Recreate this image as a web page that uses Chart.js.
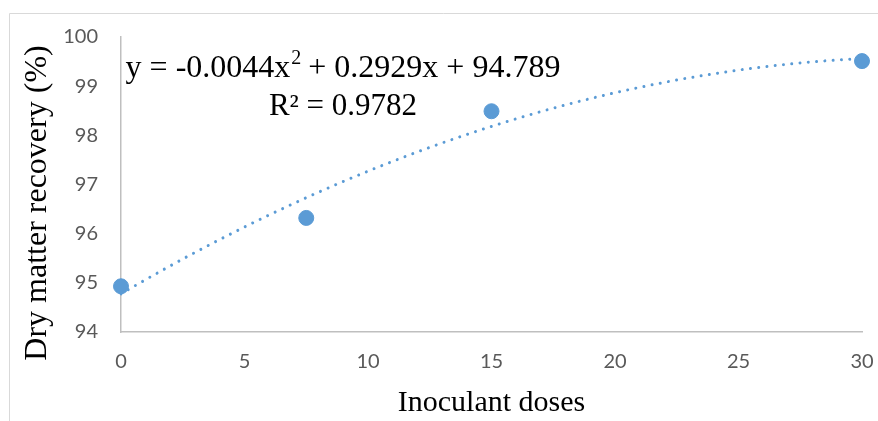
<!DOCTYPE html>
<html>
<head>
<meta charset="utf-8">
<script src="https://cdn.jsdelivr.net/npm/chart.js@4/dist/chart.umd.min.js"></script>
<style>
  html, body { margin: 0; padding: 0; background: #ffffff; }
  #wrap { width: 878px; height: 421px; }
</style>
</head>
<body>
<div id="wrap"><canvas id="c" width="878" height="421"></canvas></div>
<script>
// ---- data ----
const doses = [0, 7.5, 15, 30];
const recovery = [94.93, 96.32, 98.49, 99.51];
const xTicks = [0, 5, 10, 15, 20, 25, 30];
const yTicks = [94, 95, 96, 97, 98, 99, 100];
const xTitle = 'Inoculant doses';
const yTitle = 'Dry matter recovery (%)';
const eqLine1a = 'y = -0.0044x';
const eqLine1sup = '2';
const eqLine1b = ' + 0.2929x + 94.789';
const eqLine2 = 'R² = 0.9782';

// ---- 2nd order polynomial least-squares trendline computed from the data ----
function polyFit2(xs, ys) {
  let n = xs.length, sx = 0, sx2 = 0, sx3 = 0, sx4 = 0, sy = 0, sxy = 0, sx2y = 0;
  for (let i = 0; i < n; i++) {
    const x = xs[i], y = ys[i];
    sx += x; sx2 += x * x; sx3 += x * x * x; sx4 += x * x * x * x;
    sy += y; sxy += x * y; sx2y += x * x * y;
  }
  const M = [[n, sx, sx2, sy], [sx, sx2, sx3, sxy], [sx2, sx3, sx4, sx2y]];
  for (let i = 0; i < 3; i++) {
    for (let j = i + 1; j < 3; j++) {
      const f = M[j][i] / M[i][i];
      for (let k = i; k < 4; k++) M[j][k] -= f * M[i][k];
    }
  }
  const r = [0, 0, 0];
  for (let i = 2; i >= 0; i--) {
    let s = M[i][3];
    for (let k = i + 1; k < 3; k++) s -= M[i][k] * r[k];
    r[i] = s / M[i][i];
  }
  return { c: r[0], b: r[1], a: r[2] };
}
const fit = polyFit2(doses, recovery);
const trend = [];
for (let x = doses[0]; x <= doses[doses.length - 1] + 1e-9; x += 0.25) {
  trend.push({ x: x, y: fit.a * x * x + fit.b * x + fit.c });
}

const blue = '#5B9BD5';
const tickColor = '#595959';
const serif = '"Liberation Serif", "Times New Roman", serif';

const decorPlugin = {
  id: 'decor',
  beforeDraw(chart) {
    const ctx = chart.ctx;
    ctx.save();
    ctx.strokeStyle = '#D9D9D9';
    ctx.lineWidth = 1;
    ctx.beginPath();
    ctx.moveTo(9.5, 421);
    ctx.lineTo(9.5, 13.5);
    ctx.lineTo(878, 13.5);
    ctx.stroke();
    ctx.restore();
  },
  afterDraw(chart) {
    const ctx = chart.ctx;
    ctx.save();
    ctx.fillStyle = '#000000';
    // y axis title
    ctx.save();
    ctx.translate(38, 203);
    ctx.rotate(-Math.PI / 2);
    ctx.font = '32px ' + serif;
    ctx.textAlign = 'center';
    ctx.textBaseline = 'middle';
    ctx.fillText(yTitle, 0, 0);
    ctx.restore();
    // trendline equation
    const big = '32px ' + serif, small = '20px ' + serif;
    ctx.textBaseline = 'alphabetic';
    ctx.textAlign = 'left';
    ctx.font = big;
    const wA = ctx.measureText(eqLine1a).width;
    const wB = ctx.measureText(eqLine1b).width;
    ctx.font = small;
    const wS = ctx.measureText(eqLine1sup).width;
    const cx = 343;
    let x0 = cx - (wA + wS + wB) / 2;
    ctx.font = big;
    ctx.fillText(eqLine1a, x0, 77);
    ctx.font = small;
    ctx.fillText(eqLine1sup, x0 + wA + 1, 64);
    ctx.font = big;
    ctx.fillText(eqLine1b, x0 + wA + wS, 77);
    ctx.textAlign = 'center';
    ctx.font = '31px ' + serif;
    ctx.fillText(eqLine2, cx, 115);
    ctx.restore();
  }
};

new Chart(document.getElementById('c'), {
  type: 'scatter',
  data: {
    datasets: [
      {
        label: 'Trend',
        type: 'line',
        data: trend,
        showLine: true,
        borderColor: blue,
        borderWidth: 3,
        borderDash: [0.01, 8.3],
        borderCapStyle: 'round',
        pointRadius: 0,
        fill: false,
        tension: 0,
        clip: false,
        order: 2
      },
      {
        label: 'Dry matter recovery',
        data: doses.map((d, i) => ({ x: d, y: recovery[i] })),
        backgroundColor: blue,
        borderColor: blue,
        pointRadius: 7.5,
        pointHoverRadius: 7.5,
        clip: false,
        order: 1
      }
    ]
  },
  options: {
    responsive: false,
    animation: false,
    devicePixelRatio: 1,
    layout: { padding: { left: 0, right: 16, top: 37, bottom: 0 } },
    plugins: {
      legend: { display: false },
      tooltip: { enabled: false }
    },
    scales: {
      x: {
        type: 'linear',
        min: xTicks[0],
        max: xTicks[xTicks.length - 1],
        afterBuildTicks(scale) { scale.ticks = xTicks.map(v => ({ value: v })); },
        afterFit(scale) { scale.height = 89; scale.paddingLeft = 0; scale.paddingRight = 0; },
        grid: { display: false, drawTicks: false },
        border: { display: true, color: '#BFBFBF', width: 1.5 },
        ticks: {
          color: tickColor,
          font: { family: 'Lato, "Open Sans", sans-serif', size: 20 },
          padding: 18,
          maxRotation: 0
        },
        title: {
          display: true,
          text: xTitle,
          color: '#000000',
          font: { family: serif, size: 30 },
          padding: { top: 0, bottom: 0 }
        }
      },
      y: {
        type: 'linear',
        min: yTicks[0],
        max: yTicks[yTicks.length - 1],
        afterBuildTicks(scale) { scale.ticks = yTicks.map(v => ({ value: v })); },
        afterFit(scale) { scale.width = 121; },
        grid: { display: false, drawTicks: false },
        border: { display: true, color: '#BFBFBF', width: 1.5 },
        ticks: {
          color: tickColor,
          font: { family: 'Lato, "Open Sans", sans-serif', size: 20 },
          padding: 23
        },
        title: { display: false }
      }
    }
  },
  plugins: [decorPlugin]
});
</script>
</body>
</html>
